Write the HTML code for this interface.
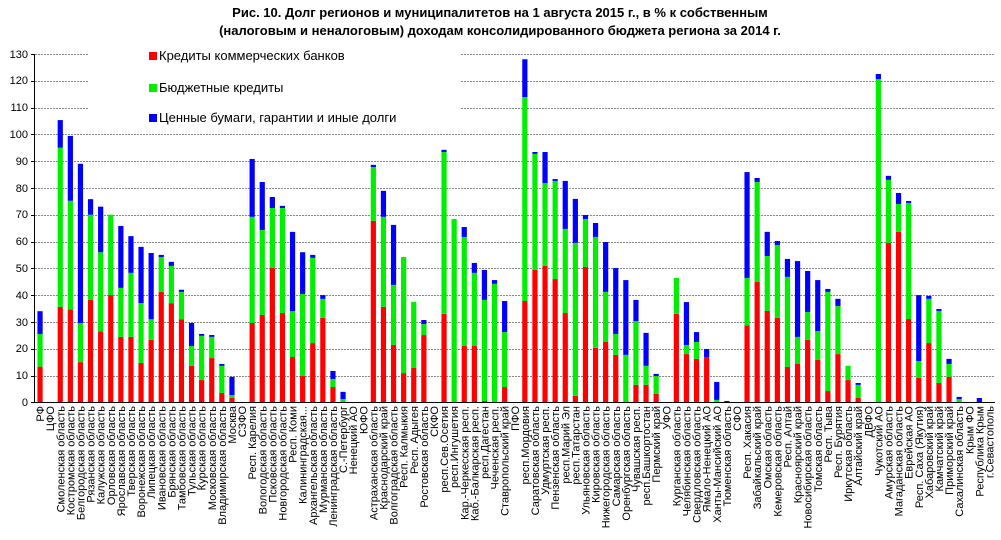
<!DOCTYPE html>
<html><head><meta charset="utf-8"><style>
body{margin:0;background:#fff}
svg{display:block;font-family:"Liberation Sans",sans-serif}
.t{font-size:11px;fill:#000}
</style></head><body>
<svg id="s" width="1001" height="540" xmlns="http://www.w3.org/2000/svg">
<text x="500" y="17" text-anchor="middle" font-weight="bold" font-size="13">Рис. 10. Долг регионов и муниципалитетов на 1 августа 2015 г., в % к собственным</text>
<text x="500" y="35" text-anchor="middle" font-weight="bold" font-size="13">(налоговым и неналоговым) доходам консолидированного бюджета региона за 2014 г.</text>
<g id="grid"></g>
<g id="bars"></g>
<rect x="88" y="38" width="372" height="89" fill="#fff"/>
<rect x="149" y="52" width="8" height="8" fill="#ff0000"/>
<text x="159" y="60" font-size="13">Кредиты коммерческих банков</text>
<rect x="149" y="84" width="8" height="8" fill="#00ee00"/>
<text x="159" y="92" font-size="13">Бюджетные кредиты</text>
<rect x="149" y="114" width="8" height="8" fill="#0000ff"/>
<text x="159" y="122" font-size="13">Ценные бумаги, гарантии и иные долги</text>
<g font-size="11" text-anchor="end">
<text x="28" y="406">0</text><text x="28" y="379">10</text><text x="28" y="352">20</text><text x="28" y="326">30</text><text x="28" y="299">40</text><text x="28" y="272">50</text><text x="28" y="245">60</text><text x="28" y="218">70</text><text x="28" y="192">80</text><text x="28" y="165">90</text><text x="28" y="138">100</text><text x="28" y="111">110</text><text x="28" y="84">120</text><text x="28" y="58">130</text>
</g>
<line x1="35" y1="402.5" x2="995" y2="402.5" stroke="#000"/>
<line x1="34.5" y1="54" x2="34.5" y2="403" stroke="#000"/>
<g id="ticks"></g>
<g id="lab" class="t" text-anchor="end">
<text>РФ</text><text>ЦФО</text><text>Смоленская область</text><text>Костромская область</text><text>Белгородская область</text><text>Рязанская область</text><text>Калужская область</text><text>Орловская область</text><text>Ярославская область</text><text>Тверская область</text><text>Воронежская область</text><text>Липецкая область</text><text>Ивановская область</text><text>Брянская область</text><text>Тамбовская область</text><text>Тульская область</text><text>Курская область</text><text>Московская область</text><text>Владимирская область</text><text>Москва</text><text>СЗФО</text><text>Респ. Карелия</text><text>Вологодская область</text><text>Псковская область</text><text>Новгородская область</text><text>Респ. Коми</text><text>Калининградская...</text><text>Архангельская область</text><text>Мурманская область</text><text>Ленинградская область</text><text>С.-Петербург</text><text>Ненецкий АО</text><text>ЮФО</text><text>Астраханская область</text><text>Краснодарский край</text><text>Волгоградская область</text><text>Респ. Калмыкия</text><text>Респ. Адыгея</text><text>Ростовская область</text><text>СКФО</text><text>респ.Сев.Осетия</text><text>респ.Ингушетия</text><text>Кар.-Черкесская респ.</text><text>Каб.-Балкарская респ.</text><text>респ.Дагестан</text><text>Чеченская респ.</text><text>Ставропольский край</text><text>ПФО</text><text>респ.Мордовия</text><text>Саратовская область</text><text>Удмуртская респ.</text><text>Пензенская область</text><text>респ.Марий Эл</text><text>респ.Татарстан</text><text>Ульяновская область</text><text>Кировская область</text><text>Нижегородская область</text><text>Самарская область</text><text>Оренбургская область</text><text>Чувашская респ.</text><text>респ.Башкортостан</text><text>Пермский край</text><text>УФО</text><text>Курганская область</text><text>Челябинская область</text><text>Свердловская область</text><text>Ямало-Ненецкий АО</text><text>Ханты-Мансийский АО</text><text>Тюменская область</text><text>СФО</text><text>Респ. Хакасия</text><text>Забайкальский край</text><text>Омская область</text><text>Кемеровская область</text><text>Респ. Алтай</text><text>Красноярский край</text><text>Новосибирская область</text><text>Томская область</text><text>Респ. Тыва</text><text>Респ. Бурятия</text><text>Иркутская область</text><text>Алтайский край</text><text>ДВФО</text><text>Чукотский АО</text><text>Амурская область</text><text>Магаданская область</text><text>Еврейская АО</text><text>Респ. Саха (Якутия)</text><text>Хабаровский край</text><text>Камчатский край</text><text>Приморский край</text><text>Сахалинская область</text><text>Крым ФО</text><text>Республика Крым</text><text>г.Севастополь</text>
</g>
</svg>
<script>
var NS="http://www.w3.org/2000/svg";
function el(n,a,p){var e=document.createElementNS(NS,n);for(var k in a)e.setAttribute(k,a[k]);p.appendChild(e);return e;}
var Y0=402.3,K=2.68;
var g=document.getElementById("grid"),tk=document.getElementById("ticks");
for(var v=10;v<=130;v+=10){var y=Math.round(Y0-v*K)+0.5;el("line",{x1:35,x2:995,y1:y,y2:y,stroke:"#888","stroke-dasharray":"2,1"},g);el("line",{x1:31,x2:35,y1:y,y2:y,stroke:"#000"},tk);}
el("line",{x1:31,x2:35,y1:402.5,y2:402.5,stroke:"#000"},tk);
var D=[[13.3,25.5,34],0,[35.6,95,105.3],[34.6,75.2,99.4],[15,29.5,89],[38.2,70,75.8],[26.4,56,73],[40,70,70],[24.4,42.7,65.8],[24.4,48.3,62],[14.7,37,58],[23.3,31,55.7],[41.2,54.2,55],[37,50.9,52.4],[31,41.2,42],[13.6,21,29.6],[8.3,24.8,25.5],[16.5,24.4,25.1],[3.5,13.6,14.3],[1.6,2.7,9.5],0,
[29.6,69.2,90.8],[32.6,64.3,82.2],[50.1,72.5,76.6],[33.3,72.5,73.3],[16.9,34,63.6],[9.8,40.4,56],[22.1,53.9,55],[31.5,38.6,40],[5.7,8.7,11.7],[0,1.2,3.9],0,0,
[67.7,87.8,88.6],[35.6,69.2,78.9],[21.4,43.8,66.2],[10.9,54.2,54.2],[12.8,37.4,37.4],[25.1,29.2,30.7],0,
[33,93.4,94.2],[0,68.4,68.4],[21,61.7,65.4],[21,48.3,52],[0.5,38.2,49.4],[0,44.2,45.6],[5.7,26.2,37.8],0,
[37.8,113.9,128],[49.4,92.7,93.4],[50.9,81.8,93.4],[46,82.6,83.3],[33.3,64.7,82.6],[2.4,59.5,75.9],[50.5,68.4,69.9],[20.3,61.7,66.9],[22.5,41.2,59.8],[17.7,25.5,50.1],[0,17.7,45.6],[6.5,30.3,38.2],[6.5,13.6,25.9],[3.1,9.8,10.6],0,
[33,46.4,46.4],[18,21.4,37.4],[16.2,22.5,26.2],[16.9,16.9,19.9],[0,0.9,7.6],[0,0,0.5],0,
[28.7,46.4,85.9],[44.9,82.2,83.7],[34.1,54.6,63.6],[31.5,58.7,60.2],[13.2,46.8,53.5],[14.3,24.4,52.7],[23.3,33.7,49],[15.8,26.6,45.6],[4.2,41.2,42.3],[18,35.9,38.6],[8.3,13.6,13.6],[1.6,6.5,7.2],0,
[0,120.6,122.5],[59.5,83,84.5],[63.6,74,78.1],[31.1,74.4,75.1],[9.1,15.4,40],[22.1,38.6,39.7],[7.2,34.1,34.8],[9.5,14.3,16.2],[0,1.2,2],0,[0,0,1.6],0];
var b=document.getElementById("bars"),W=10.1,C=["#ff0000","#00ee00","#0000ff"];
D.forEach(function(d,i){if(!d)return;var cx=35+(i+0.5)*W,prev=0;
for(var j=0;j<3;j++){var v=d[j];if(v>prev){var y1=Y0-v*K,y2=Y0-prev*K;el("rect",{x:cx-2.6,y:y1,width:5.2,height:y2-y1,fill:C[j]},b);prev=v;}}});
var L=document.getElementById("lab").children;
for(var i=0;i<L.length;i++){var x=35+(i+0.5)*W+4;L[i].setAttribute("transform","translate("+x+",406) rotate(-90)");}
</script>
</body></html>
